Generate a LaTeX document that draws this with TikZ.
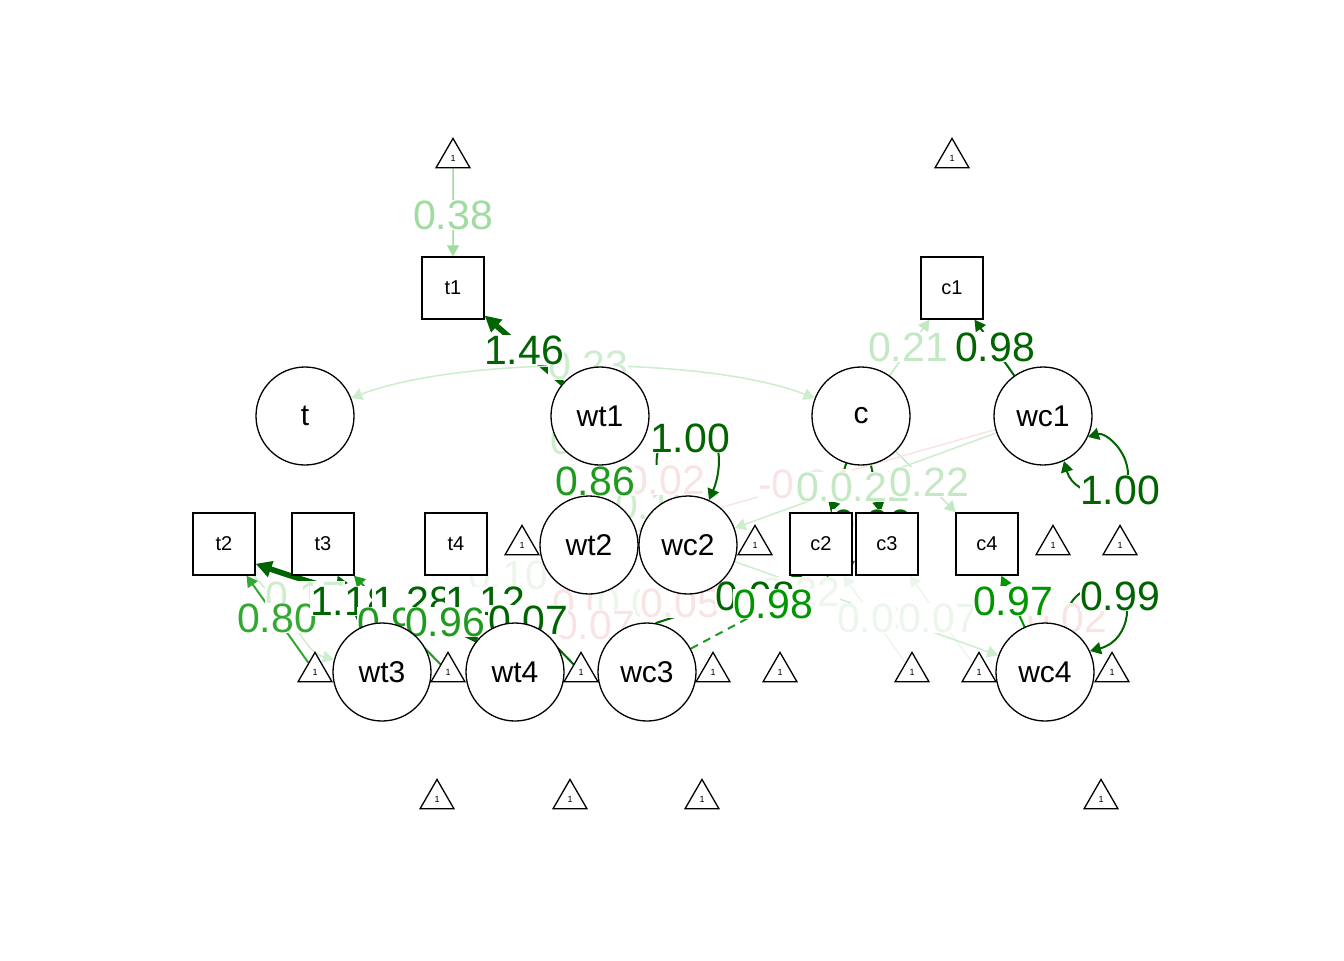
\documentclass[tikz,border=0pt]{standalone}
\usepackage{fontspec}
\setmainfont{Liberation Sans}
\usetikzlibrary{arrows.meta,shapes.geometric}
\pgfdeclarelayer{edges}
\pgfdeclarelayer{labels}
\pgfsetlayers{edges,labels,main}
\definecolor{dk}{RGB}{0,100,0}
\definecolor{mdg}{RGB}{30,155,30}
\definecolor{mdb}{RGB}{50,170,50}
\definecolor{mdc}{RGB}{0,150,0}
\definecolor{lga}{RGB}{160,220,160}
\definecolor{lgb}{RGB}{195,232,195}
\definecolor{vlg}{RGB}{205,237,205}
\definecolor{fgr}{RGB}{236,246,236}
\definecolor{pnk}{RGB}{248,228,228}
\tikzset{
  lat/.style={circle,draw,line width=0.65pt,fill=white,minimum size=49pt,inner sep=0pt,font=\fontsize{15}{15}\selectfont},
  man/.style={rectangle,draw,line width=0.65pt,fill=white,minimum size=31pt,inner sep=0pt,font=\fontsize{10}{10}\selectfont},
  int/.style={regular polygon,regular polygon sides=3,draw,line width=0.65pt,fill=white,minimum size=19.6pt,inner sep=0pt,font=\fontsize{4.5}{4.5}\selectfont},
  lab/.style={fill=white,inner sep=0pt,font=\fontsize{20.5}{20.5}\selectfont},
  ed/.style={line width=0.75pt,-{Triangle[length=5.5pt,width=6pt]}},
  edb/.style={line width=0.75pt,{Triangle[length=5.5pt,width=6pt]}-{Triangle[length=5.5pt,width=6pt]}},
  thick tip/.style={line width=2.8pt,-{Triangle[length=8pt,width=8pt]}}
}
\begin{document}
\begin{tikzpicture}[x=0.5pt,y=-0.5pt]
\useasboundingbox (0,0) rectangle (1344,960);
% nodes
\node[int] (i1) at (453,158) {1};
\node[int] (i2) at (952,158) {1};
\node[man] (t1) at (453,288) {t1};
\node[man] (c1) at (952,288) {c1};
\node[lat] (t) at (305,416) {t};
\node[lat] (wt1) at (600,416) {wt1};
\node[lat] (c) at (861,416) {c};
\node[lat] (wc1) at (1043,416) {wc1};
\node[man] (t2) at (224,544) {t2};
\node[man] (t3) at (323,544) {t3};
\node[man] (t4) at (456,544) {t4};
\node[int] (i3) at (522,545) {1};
\node[lat] (wt2) at (589,545) {wt2};
\node[lat] (wc2) at (688,545) {wc2};
\node[int] (i4) at (755,545) {1};
\node[man] (c2) at (821,544) {c2};
\node[man] (c3) at (887,544) {c3};
\node[man] (c4) at (987,544) {c4};
\node[int] (i5) at (1053,545) {1};
\node[int] (i6) at (1120,545) {1};
\node[int] (r1) at (315,672) {1};
\node[lat] (wt3) at (382,672) {wt3};
\node[int] (r2) at (448,672) {1};
\node[lat] (wt4) at (515,672) {wt4};
\node[int] (r3) at (581,672) {1};
\node[lat] (wc3) at (647,672) {wc3};
\node[int] (r4) at (713,672) {1};
\node[int] (r5) at (780,672) {1};
\node[int] (r6) at (912,672) {1};
\node[int] (r7) at (979,672) {1};
\node[lat] (wc4) at (1045,672) {wc4};
\node[int] (r8) at (1112,672) {1};
\node[int] (b1) at (437,799) {1};
\node[int] (b2) at (570,799) {1};
\node[int] (b3) at (702,799) {1};
\node[int] (b4) at (1101,799) {1};
% edges
\begin{pgfonlayer}{edges}
\draw[ed,lga] (i1) -- (t1);
\draw[ed,thick tip,dk] (wt1) -- (t1);
\draw[edb,vlg] (t) .. controls (460,356) and (706,356) .. (c);
\draw[ed,lgb] (c) -- (c1);
\draw[ed,dk,line width=1pt] (wc1) -- (c1);
\draw[ed,dk,line width=1pt] (c) -- (c2);
\draw[ed,dk,line width=1pt] (c) -- (c3);
\draw[ed,lgb] (c) -- (c4);
\draw[edb,dk,line width=1pt] (wc1.-65) .. controls (1075,500) and (1128,500) .. (1128,475) .. controls (1128,450) and (1105,432) .. (wc1.-25);
\draw[edb,dk,line width=1pt] (wc2.115) .. controls (652,470) and (652,425) .. (690,425) .. controls (725,425) and (722,470) .. (wc2.65);
\draw[ed,mdg,line width=1pt] (wt1) -- (wt2);
\draw[ed,vlg] (wc1) -- (wc2);
\draw[ed,pnk] (wc1) -- (wt2);
\draw[ed,thick tip,dk] (wt4.140) .. controls (420,610) and (330,590) .. (t2.-32);
\draw[ed,mdb,line width=1pt] (r1) -- (t2);
\draw[ed,vlg] (t2) .. controls (300,625) and (305,652) .. (wt3);
\draw[ed,dk,line width=1pt] (wt3) -- (t3);
\draw[ed,mdg,line width=1pt] (r2) -- (t3);
\draw[ed,dk,line width=1pt] (wt4) -- (t4);
\draw[ed,dk,line width=1pt] (r3) -- (t4.south east);
\draw[ed,mdg,line width=1pt,dash pattern=on 4pt off 3pt] (wc3) -- (c3);
\draw[ed,dk,line width=1pt] (wc3.80) -- (c2.-120);
\draw[ed,mdc,line width=1pt] (wc4) -- (c4);
\draw[edb,dk,line width=1pt] (wc4.65) .. controls (1068,600) and (1082,585) .. (1110,585) .. controls (1136,590) and (1132,640) .. (wc4.25);
\draw[ed,fgr] (r6) -- (c2);
\draw[ed,fgr] (r7) -- (c3);
\draw[ed,vlg] (wc2) -- (wc4);
\end{pgfonlayer}
% labels
\begin{pgfonlayer}{labels}
\node[lab,text=lga] (l1) at (453,215) {0.38};
\node[lab,text=vlg] (l3) at (588,365) {0.23};
\node[lab,text=dk] (l2) at (524,350) {1.46};
\node[lab,text=lgb] (l4) at (908,347) {0.21};
\node[lab,text=dk] (l5) at (995,347) {0.98};
\node[lab,text=vlg] (l8) at (590,440) {0.19};
\node[lab,text=vlg] (l9) at (655,505) {0.12};
\node[lab,text=pnk] (l10) at (665,480) {0.02};
\node[lab,text=dk] (l6) at (690,438) {1.00};
\node[lab,text=mdg] (l11) at (595,481) {0.86};
\node[lab,text=dk] (l7) at (1120,490) {1.00};
\node[lab,text=pnk] (l12) at (805,484) {-0.04};
\node[lab,text=dk] (l14) at (872,524) {0.90};
\node[lab,text=lgb] (l13) at (836,487) {0.02};
\node[lab,text=lgb] (l15) at (870,487) {0.22};
\node[lab,text=lgb] (l16) at (929,482) {0.22};
\node[lab,text=fgr] (l17) at (508,575) {0.10};
\node[lab,text=vlg] (l18) at (305,596) {0.17};
\node[lab,text=mdb] (l19) at (277,618) {0.80};
\node[lab,text=pnk] (l20) at (592,604) {0.09};
\node[lab,text=fgr] (l21) at (637,603) {0.06};
\node[lab,text=pnk] (l22) at (680,603) {0.05};
\node[lab,text=pnk] (l23) at (595,625) {0.07};
\node[lab,text=dk] (l24) at (350,601) {1.18};
\node[lab,text=dk] (l25) at (412,601) {1.28};
\node[lab,text=dk] (l26) at (485,601) {1.12};
\node[lab,text=mdg] (l27) at (397,622) {0.95};
\node[lab,text=mdg] (l28) at (445,622) {0.96};
\node[lab,text=dk] (l29) at (528,620) {0.07};
\node[lab,text=fgr] (l30) at (800,592) {0.22};
\node[lab,text=dk] (l31) at (755,596) {0.98};
\node[lab,text=mdc] (l32) at (773,604) {0.98};
\node[lab,text=fgr] (l33) at (877,618) {0.03};
\node[lab,text=fgr] (l34) at (938,618) {0.07};
\node[lab,text=pnk] (l35) at (1067,618) {0.02};
\node[lab,text=mdc] (l36) at (1013,601) {0.97};
\node[lab,text=dk] (l37) at (1120,596) {0.99};
\end{pgfonlayer}
\end{tikzpicture}
\end{document}
